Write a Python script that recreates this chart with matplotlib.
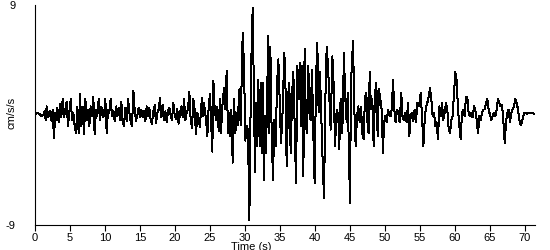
import matplotlib
matplotlib.use("Agg")
import matplotlib.pyplot as plt

# accelerogram (time in s, acceleration in cm/s/s)
time_s = [
    0.0, 0.24, 0.62, 0.95, 1.19, 1.38, 1.52, 1.67, 1.90, 2.14, 2.38, 2.52, 2.71, 2.90, 3.10, 3.19,
    3.38, 3.57, 3.76, 3.95, 4.14, 4.33, 4.52, 4.71, 4.90, 5.10, 5.29, 5.48, 5.67, 5.86, 6.05, 6.24,
    6.43, 6.62, 6.81, 7.00, 7.19, 7.38, 7.57, 7.76, 7.95, 8.14, 8.33, 8.52, 8.71, 8.90, 9.10, 9.29,
    9.48, 9.67, 9.86, 10.05, 10.24, 10.43, 10.62, 10.81, 11.00, 11.19, 11.38, 11.57, 11.76, 11.95,
    12.14, 12.33, 12.52, 12.71, 12.90, 13.10, 13.29, 13.48, 13.67, 13.86, 14.05, 14.24, 14.43, 14.62,
    14.81, 15.00, 15.19, 15.38, 15.57, 15.76, 15.95, 16.14, 16.33, 16.52, 16.71, 16.90, 17.10, 17.29,
    17.48, 17.67, 17.86, 18.05, 18.24, 18.43, 18.62, 18.81, 19.00, 19.19, 19.38, 19.57, 19.76, 19.95,
    20.14, 20.33, 20.52, 20.71, 20.90, 21.10, 21.29, 21.48, 21.67, 21.86, 22.05, 22.24, 22.43, 22.62,
    22.81, 23.00, 23.19, 23.38, 23.57,
    23.71, 23.86, 24.00, 24.14, 24.29, 24.43, 24.62, 24.81, 25.00, 25.19, 25.33, 25.48, 25.67, 25.86,
    26.05, 26.24, 26.43, 26.57, 26.76, 27.00, 27.19, 27.38, 27.57, 27.76, 27.90, 28.05, 28.24, 28.43,
    28.62, 28.81, 28.95, 29.19, 29.38, 29.52, 29.67, 29.86, 30.05, 30.24, 30.43, 30.62,
    30.86, 31.10, 31.29, 31.43, 31.57, 31.76, 31.90, 32.10, 32.24, 32.38, 32.52, 32.71, 32.86, 33.00,
    33.19, 33.33, 33.48, 33.62, 33.81, 34.00, 34.19, 34.38, 34.57, 34.76, 34.95, 35.14, 35.33, 35.62,
    35.81, 35.95, 36.19, 36.33, 36.52, 36.76, 36.90,
    37.00, 37.29, 37.48, 37.67, 37.86, 38.00, 38.14, 38.33, 38.52, 38.67, 38.81, 39.05, 39.19, 39.38,
    39.57, 39.76, 39.95, 40.14, 40.33, 40.52, 40.71, 40.95, 41.10, 41.29, 41.48, 41.67, 41.86, 42.05,
    42.24, 42.48, 42.67, 42.86, 43.10, 43.33, 43.48,
    43.57, 43.71, 43.90, 44.14, 44.29, 44.52, 44.67, 44.86, 45.00, 45.14, 45.43, 45.62, 45.81, 46.00,
    46.19, 46.38, 46.57, 46.76, 46.95, 47.14, 47.33, 47.52, 47.67, 47.81, 48.00, 48.19, 48.38, 48.57,
    48.76, 48.95, 49.14, 49.33, 49.52, 49.71,
    49.86, 50.05, 50.24, 50.43, 50.62, 50.81, 51.00, 51.14, 51.33, 51.52, 51.71, 51.90, 52.10, 52.33,
    52.48, 52.67, 52.86, 53.10, 53.29, 53.48, 53.67, 53.86, 54.05, 54.24, 54.43, 54.62, 54.86, 55.10,
    55.29, 55.48, 55.67, 55.86, 56.05, 56.24, 56.43, 56.62, 56.81, 57.00, 57.19, 57.38, 57.57, 57.76,
    57.95, 58.14, 58.33, 58.52, 58.71, 58.90, 59.10, 59.29, 59.48, 59.67, 59.86, 60.05, 60.24, 60.43,
    60.62, 60.81, 61.00, 61.19, 61.38, 61.57, 61.76, 61.95, 62.14, 62.33, 62.52, 62.71, 62.90, 63.10,
    63.29, 63.48, 63.67, 63.86, 64.05, 64.24, 64.43, 64.62, 64.81, 65.00, 65.19, 65.38, 65.57, 65.76,
    65.95, 66.14, 66.33, 66.52, 66.71, 66.90, 67.10, 67.29, 67.48, 67.67, 67.86, 68.05, 68.24, 68.43,
    68.62, 68.81, 69.00, 69.19, 69.38, 69.57, 69.76, 69.95, 70.14, 70.33, 70.71, 71.40,
]
accel = [
    0.0, 0.2, 0.1, -0.1, 0.0, 0.3, -0.4, 0.7, -0.2, 0.3, -0.5, 0.45, -1.9, 0.2, -0.4, 0.6,
    -0.6, 0.9, -0.2, 1.3, -0.2, 0.45, 1.1, -0.9, 0.2, 1.3, -0.4, 0.2, -0.9, -1.5, 0.7, -1.5,
    1.7, -0.9, 0.7, -1.6, 1.3, -0.4, 0.45, -0.9, 0.7, -0.1, 1.5, -1.6, 0.45, -0.1, 1.3, -0.4,
    0.7, -0.2, 0.0, 1.3, -1.5, 0.45, 0.2, 1.3, -0.1, 0.3, -0.5, 0.7, -0.1, 0.6,
    -0.4, 1.1, -0.6, -0.9, 0.6, -0.5, 1.3, 0.2, -0.6, -0.9, 2.0, 0.45, -0.5, 0.0,
    0.6, -0.2, 0.45, -0.2, 0.3, -0.5, 0.7, -0.1, 0.6, -0.4, -0.7, 0.3, 0.8, -0.7,
    0.2, 0.45, 1.4, -0.2, 0.8, -0.4, 0.3, -0.6, 0.3, 0.6, 0.0, -0.4, 1.0, 0.0,
    -0.3, 0.5, -0.7, 0.1, 0.7, -0.15, 1.3, -0.4, 0.2, 0.5, 1.9, -0.4, -1.05, 1.3,
    0.45, -1.6, 0.2, -0.4, -1.0,
    0.45, 1.4, -0.1, 1.0, 0.3, -0.4, -1.7, 0.7, 1.7, -0.9, -3.0, 2.8, 0.45, -0.4,
    0.7, -1.3, 1.3, -1.5, 0.7, 2.2, 0.45, 3.6, -1.5, 0.2, -1.7, 0.45, -3.9, 1.3,
    -1.5, 0.2, -0.8, 2.1, -0.8, 2.8, 6.7, 4.0, -2.1, -0.9, -1.3, -8.6,
    3.5, 8.8, 1.3, -4.7, 1.0, -2.55, 2.9, -2.55, 2.6, -3.1, 2.6, -5.3, -0.1, -3.1,
    2.6, 6.5, -1.5, 5.6, -1.5, -5.3, -0.4, -2.55, 2.4, 4.55, 1.3, -2.3, -0.4, 5.1,
    1.8, -4.2, 1.8, 2.6, -3.1, 2.1, 3.5,
    1.5, -5.6, 4.0, 1.3, 4.3, -0.9, 4.0, -5.0, 5.4, 0.45, -1.5, 4.0, 0.2, -0.4,
    3.7, -1.5, -5.6, 2.9, 5.9, 0.2, 3.5, -0.9, -3.9, -6.8, 1.3, 5.6, 4.0, 1.3,
    -1.2, 4.8, 2.4, -2.55, 0.45, -0.1, -2.8,
    0.7, 1.3, -1.5, 5.1, 1.8, -0.6, 1.8, -3.4, -7.2, 2.6, 6.1, 0.45, -2.55, -0.1,
    0.7, -0.6, 0.7, -1.5, -2.0, 1.5, 1.8, -0.9, -1.5, 3.5, 0.45, 1.3, -2.55, 1.8,
    2.6, -1.7, 2.1, 1.3, 0.45, -3.1,
    -0.6, -0.1, -0.6, 0.45, 0.0, -0.1, 0.7, 2.9, 0.45, -0.6, 0.45, 0.2, -0.6, 1.8,
    -0.1, -0.4, 0.2, -0.6, 1.0, -1.7, -0.1, 0.2, -0.5, 0.45, -0.6, 1.0, 0.7, 1.8,
    -0.1, -2.55, -0.4, 0.7, 1.0, 1.5, 2.2, 1.3, -0.1, 0.2, -0.9, -0.6, -2.0, 0.7,
    -0.1, 1.0, -0.4, 0.2, 1.0, 0.45, -1.2, -1.5, -0.4, -0.1, 1.8, 3.5, 2.8, 0.45,
    -0.9, -2.0, 0.2, 0.45, -0.1, 1.5, 1.4, 0.2, -0.1, 0.2, -0.2, 0.7, 0.45, -0.4,
    -1.5, -0.1, -0.4, 0.2, 0.45, 0.45, 1.0, 1.3, 0.45, 0.0, -0.4, -0.1, 0.2, -0.1,
    0.45, 1.3, 1.0, 0.7, 0.85, -0.4, -2.3, -0.6, 0.2, 0.45, -0.6, 0.2, 0.45, 0.7,
    1.3, 1.0, 0.45, -0.4, -0.8, -0.6, -0.1, 0.2, 0.2, 0.1, 0.2, 0.1,
]
x_ticks = [0, 5, 10, 15, 20, 25, 30, 35, 40, 45, 50, 55, 60, 65, 70]
y_ticks = [-9, 9]

plt.rcParams["font.family"] = ["Liberation Sans", "DejaVu Sans"]
plt.rcParams["font.size"] = 8
plt.rcParams["axes.unicode_minus"] = False

fig = plt.figure(figsize=(5.5, 2.5), dpi=100)
ax = fig.add_axes([35 / 550, 25 / 250, 500 / 550, 220 / 250])
ax.plot(time_s, accel, color="black", linewidth=0.72, antialiased=False)

ax.set_xlim(0, 71.43)
ax.set_ylim(-9, 9)
ax.set_xticks(x_ticks)
ax.set_yticks(y_ticks)
ax.set_yticks([-9], minor=True)
ax.tick_params(axis="x", direction="out", length=4, width=0.8, pad=1.5)
ax.tick_params(axis="y", which="major", length=0, pad=14)
ax.tick_params(axis="y", which="minor", length=4, width=0.8)
for spine in ["top", "right"]:
    ax.spines[spine].set_visible(False)
for spine in ["left", "bottom"]:
    ax.spines[spine].set_linewidth(0.8)

ax.set_xlabel("Time (s)", labelpad=0)
ax.xaxis.set_label_coords(0.432, -0.075)
ax.set_ylabel("cm/s/s")
ax.yaxis.set_label_coords(-0.036, 0.51)

fig.savefig("out.png", dpi=100)
